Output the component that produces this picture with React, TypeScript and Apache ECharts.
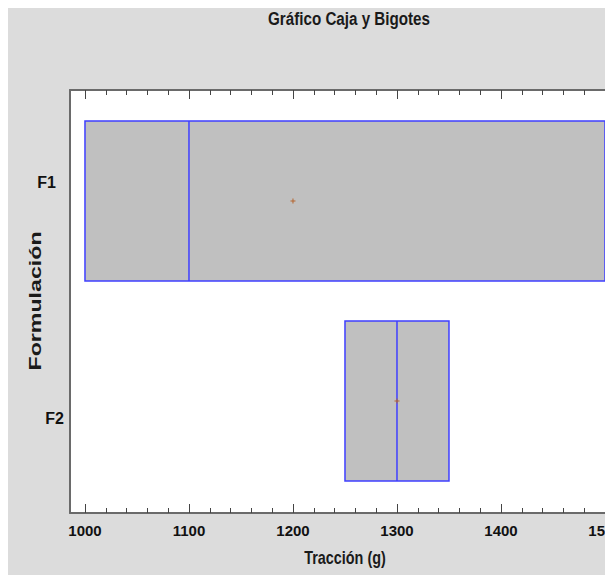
import React, { useEffect, useRef } from 'react';
import * as echarts from 'echarts';

const categories = ['F1', 'F2'];
const q1Values = [1000, 1250];
const medianValues = [1100, 1300];
const q3Values = [1500, 1350];
const meanValues = [1200, 1300];
const majorTicks = [1000, 1100, 1200, 1300, 1400, 1500];
const minorTicks = [
  1020, 1040, 1060, 1080, 1120, 1140, 1160, 1180, 1220, 1240, 1260, 1280,
  1320, 1340, 1360, 1380, 1420, 1440, 1460, 1480,
];
const titleText = 'Gráfico Caja y Bigotes';
const xTitle = 'Tracción (g)';
const yTitle = 'Formulación';

const FONT = '"Liberation Sans", Arial, sans-serif';
const X_MIN = 985.6;
const X_MAX = 1507.7;
const Y_MIN = 0.445;
const Y_MAX = 2.56;

export default function App() {
  const ref = useRef<HTMLDivElement>(null);

  useEffect(() => {
    if (!ref.current) return;
    const chart = echarts.init(ref.current, undefined, { renderer: 'svg' });

    const data = categories.map((c, i) => [
      q1Values[i],
      medianValues[i],
      q3Values[i],
      meanValues[i],
      i + 1,
    ]);

    const axisBase = (position: 'top' | 'bottom', ticks: number[], len: number, showLine: boolean, showLabel: boolean) => ({
      type: 'value' as const,
      gridIndex: 0,
      position,
      min: X_MIN,
      max: X_MAX,
      splitLine: { show: false },
      axisLine: { show: showLine, lineStyle: { color: '#6a6a6a', width: 2 } },
      axisTick: {
        show: true,
        inside: true,
        length: len,
        customValues: ticks,
        lineStyle: { color: '#444', width: 1 },
      },
      axisLabel: {
        show: showLabel,
        customValues: majorTicks,
        margin: 10,
        formatter: (v: number) => String(v),
        fontFamily: FONT,
        fontWeight: 'bold',
        fontSize: 15,
        color: '#111',
        overflow: 'none',
      },
    });

    chart.setOption({
      animation: false,
      backgroundColor: '#dcdcdc',
      grid: {
        left: 62,
        top: 82,
        right: 0,
        bottom: 62,
        show: true,
        backgroundColor: '#ffffff',
        borderWidth: 0,
        containLabel: false,
        outerBoundsMode: 'none',
      },
      xAxis: [
        axisBase('bottom', majorTicks, 9, true, true),
        axisBase('bottom', minorTicks, 5, false, false),
        axisBase('top', majorTicks, 9, true, false),
        axisBase('top', minorTicks, 5, false, false),
      ],
      yAxis: {
        type: 'value',
        inverse: true,
        min: Y_MIN,
        max: Y_MAX,
        splitLine: { show: false },
        axisTick: { show: false },
        axisLine: { show: true, lineStyle: { color: '#6a6a6a', width: 2 } },
        axisLabel: {
          customValues: [0.905, 2.085],
          margin: 6,
          formatter: (v: number) => (v < 1.5 ? '{a|' + categories[0] + '}' : '{b|' + categories[1] + '}'),
          rich: {
            a: { fontFamily: FONT, fontWeight: 'bold', fontSize: 16, color: '#111', padding: [0, 8, 0, 0] },
            b: { fontFamily: FONT, fontWeight: 'bold', fontSize: 16, color: '#111' },
          },
        },
      },
      graphic: [
        {
          type: 'text',
          x: 341,
          y: 10,
          scaleX: 0.8,
          style: {
            text: titleText,
            fontFamily: FONT,
            fontWeight: 'bold',
            fontSize: 19,
            fill: '#1a1a1a',
            textAlign: 'center',
            textVerticalAlign: 'middle',
          },
        },
        {
          type: 'text',
          x: 337,
          y: 549,
          scaleX: 0.8,
          style: {
            text: xTitle,
            fontFamily: FONT,
            fontWeight: 'bold',
            fontSize: 18,
            fill: '#1a1a1a',
            textAlign: 'center',
            textVerticalAlign: 'middle',
          },
        },
        {
          type: 'text',
          x: 27,
          y: 293,
          rotation: Math.PI / 2,
          scaleX: 1.45,
          style: {
            text: yTitle,
            fontFamily: FONT,
            fontWeight: 'bold',
            fontSize: 16,
            fill: '#1a1a1a',
            textAlign: 'center',
            textVerticalAlign: 'middle',
          },
        },
      ],
      series: [
        {
          type: 'custom',
          xAxisIndex: 0,
          yAxisIndex: 0,
          data,
          encode: { x: [0, 1, 2, 3], y: 4 },
          renderItem: (params: any, api: any) => {
            const y = api.value(4);
            const lo = api.coord([api.value(0), y]);
            const hi = api.coord([api.value(2), y]);
            const med = api.coord([api.value(1), y]);
            const mean = api.coord([api.value(3), y]);
            const h = Math.abs(api.size([0, 0.8])[1]);
            const top = lo[1] - h / 2;
            const blue = '#3f3fff';
            const brown = '#b5652e';
            return {
              type: 'group',
              children: [
                {
                  type: 'rect',
                  shape: { x: lo[0], y: top, width: hi[0] - lo[0], height: h },
                  style: { fill: '#c0c0c0', stroke: blue, lineWidth: 1.5 },
                },
                {
                  type: 'line',
                  shape: { x1: med[0], y1: top, x2: med[0], y2: top + h },
                  style: { stroke: blue, lineWidth: 1.5 },
                },
                {
                  type: 'line',
                  shape: { x1: mean[0] - 2.5, y1: mean[1], x2: mean[0] + 2.5, y2: mean[1] },
                  style: { stroke: brown, lineWidth: 1 },
                },
                {
                  type: 'line',
                  shape: { x1: mean[0], y1: mean[1] - 2.5, x2: mean[0], y2: mean[1] + 2.5 },
                  style: { stroke: brown, lineWidth: 1 },
                },
              ],
            };
          },
        },
      ],
    });

    return () => chart.dispose();
  }, []);

  return <div ref={ref} style={{ width: 605, height: 567 }} />;
}
